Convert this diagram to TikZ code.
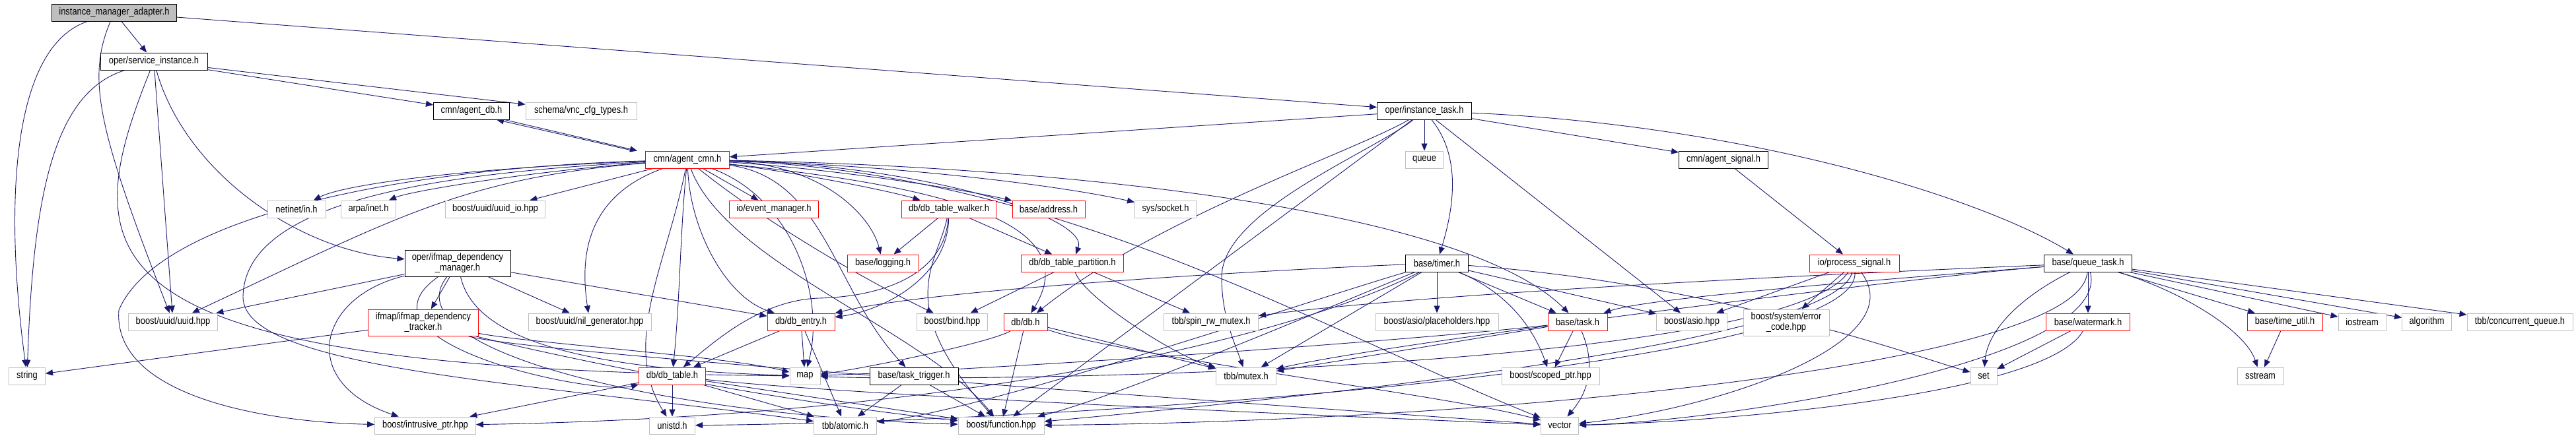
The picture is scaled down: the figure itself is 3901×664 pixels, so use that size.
\documentclass[tikz,border=0pt]{standalone}
\usepackage{fontspec}
\setmainfont{Liberation Sans}[FakeStretch=0.86]
\usetikzlibrary{arrows.meta}
\definecolor{edgec}{HTML}{191970}
\definecolor{grayb}{HTML}{BFBFBF}
\definecolor{redb}{HTML}{FF0000}
\definecolor{fillg}{HTML}{BFBFBF}
\pgfdeclarelayer{bg}
\pgfsetlayers{bg,main}
\begin{document}
\begin{tikzpicture}[x=1pt,y=-1pt,
  nd/.style={rectangle, draw, fill=white, minimum height=26pt, inner sep=0pt, line width=1pt, font=\fontsize{15}{16}\selectfont, align=center},
  bn/.style={nd, draw=black},
  rn/.style={nd, draw=redb},
  gn/.style={nd, draw=grayb},
  two/.style={minimum height=40pt},
  e/.style={draw=edgec, line width=0.9pt, -{Triangle[length=11pt,width=9pt]}}]
\useasboundingbox (0,0) rectangle (3901,664);
% row 0
\node[bn, fill=fillg, minimum width=189pt] (ima) at (173,19) {instance\_manager\_adapter.h};
% row 1
\node[bn, minimum width=162pt] (si) at (233,93) {oper/service\_instance.h};
% row 2
\node[bn, minimum width=115pt] (agentdb) at (714,168) {cmn/agent\_db.h};
\node[gn, minimum width=168pt] (vnc) at (880,168) {schema/vnc\_cfg\_types.h};
\node[bn, minimum width=143pt] (itask) at (2157,168) {oper/instance\_task.h};
% row 3
\node[rn, minimum width=127pt] (acmn) at (1041,242) {cmn/agent\_cmn.h};
\node[gn, minimum width=57pt] (queue) at (2157,242) {queue};
\node[bn, minimum width=135pt] (asig) at (2610,242) {cmn/agent\_signal.h};
% row 4
\node[gn, minimum width=88pt] (netinet) at (449,317) {netinet/in.h};
\node[gn, minimum width=83pt] (arpa) at (558,317) {arpa/inet.h};
\node[gn, minimum width=151pt] (uuidio) at (750,317) {boost/uuid/uuid\_io.hpp};
\node[rn, minimum width=135pt] (evmgr) at (1172,317) {io/event\_manager.h};
\node[rn, minimum width=143pt] (dbtw) at (1437,317) {db/db\_table\_walker.h};
\node[rn, minimum width=110pt] (addr) at (1588,317) {base/address.h};
\node[gn, minimum width=93pt] (socket) at (1765,317) {sys/socket.h};
% row 5
\node[bn, two, minimum width=160pt] (idm) at (693,399) {oper/ifmap\_dependency\\\_manager.h};
\node[rn, minimum width=108pt] (logging) at (1337,399) {base/logging.h};
\node[rn, minimum width=155pt] (dbtp) at (1624,399) {db/db\_table\_partition.h};
\node[bn, minimum width=95pt] (timer) at (2176,399) {base/timer.h};
\node[rn, minimum width=136pt] (psig) at (2808,399) {io/process\_signal.h};
\node[bn, minimum width=133pt] (qtask) at (3162,399) {base/queue\_task.h};
% row 6
\node[gn, minimum width=135pt] (uuid) at (262,488) {boost/uuid/uuid.hpp};
\node[rn, two, minimum width=167pt] (idt) at (641,489) {ifmap/ifmap\_dependency\\\_tracker.h};
\node[gn, minimum width=186pt] (nilgen) at (893,488) {boost/uuid/nil\_generator.hpp};
\node[rn, minimum width=102pt] (dbentry) at (1213,488) {db/db\_entry.h};
\node[gn, minimum width=107pt] (bind) at (1442,488) {boost/bind.hpp};
\node[rn, minimum width=66pt] (db) at (1553,488) {db/db.h};
\node[gn, minimum width=143pt] (spinrw) at (1834,488) {tbb/spin\_rw\_mutex.h};
\node[gn, minimum width=186pt] (placeh) at (2176,488) {boost/asio/placeholders.hpp};
\node[rn, minimum width=90pt] (task) at (2389,488) {base/task.h};
\node[gn, minimum width=107pt] (asio) at (2562,488) {boost/asio.hpp};
\node[gn, two, minimum width=130pt] (errc) at (2705,489) {boost/system/error\\\_code.hpp};
\node[rn, minimum width=127pt] (wmark) at (3162,488) {base/watermark.h};
\node[rn, minimum width=114pt] (tutil) at (3460,488) {base/time\_util.h};
\node[gn, minimum width=72pt] (iostream) at (3577,488) {iostream};
\node[gn, minimum width=75pt] (algo) at (3675,488) {algorithm};
\node[gn, minimum width=160pt] (cqueue) at (3816,488) {tbb/concurrent\_queue.h};
% row 7
\node[gn, minimum width=55pt] (string) at (41,570) {string};
\node[rn, minimum width=101pt] (dbtable) at (1018,570) {db/db\_table.h};
\node[gn, minimum width=46pt] (map) at (1219,570) {map};
\node[bn, minimum width=134pt] (ttrig) at (1384,570) {base/task\_trigger.h};
\node[gn, minimum width=91pt] (mutex) at (1887,570) {tbb/mutex.h};
\node[gn, minimum width=148pt] (scoped) at (2348,570) {boost/scoped\_ptr.hpp};
\node[gn, minimum width=40pt] (set) at (3004,570) {set};
\node[gn, minimum width=70pt] (sstream) at (3423,570) {sstream};
% row 8
\node[gn, minimum width=153pt] (intr) at (644,645) {boost/intrusive\_ptr.hpp};
\node[gn, minimum width=69pt] (unistd) at (1018,645) {unistd.h};
\node[gn, minimum width=95pt] (atomic) at (1280,645) {tbb/atomic.h};
\node[gn, minimum width=130pt] (func) at (1516,645) {boost/function.hpp};
\node[gn, minimum width=57pt] (vector) at (2362,645) {vector};

\begin{pgfonlayer}{bg}
% instance_manager_adapter.h
\draw[e] (ima) -- (si);
\draw[e] (ima) .. controls (20,70) and (5,300) .. (string);
\draw[e] (ima) .. controls (130,120) and (150,200) .. (uuid);
\draw[e] (ima) -- (itask);
% service_instance.h
\draw[e] (si) -- (agentdb);
\draw[e] (si) -- (vnc);
\draw[e] (si) .. controls (80,140) and (50,300) .. (string);
\draw[e] (si) -- (uuid);
\draw[e] (si) .. controls (280,260) and (450,380) .. (idm);
\draw[e] (si) .. controls (110,400) and (120,560) .. (map);
% agent_db / agent_cmn
\draw[e] ([xshift=-8pt]agentdb.south east) -- ([xshift=-12pt]acmn.north west);
\draw[e] ([xshift=-18pt]acmn.north west) -- ([xshift=-20pt]agentdb.south east);
% instance_task.h
\draw[e] (itask) -- (acmn);
\draw[e] (itask) -- (queue);
\draw[e] (itask) -- (asig);
\draw[e] (itask) .. controls (2650,190) and (3000,300) .. (qtask);
\draw[e] (itask) .. controls (2215,240) and (2200,320) .. (timer);
\draw[e] (itask) -- (asio);
\draw[e] (itask) -- (func);
\draw[e] (itask) .. controls (2050,230) and (1750,330) .. (db);
\draw[e] (itask) .. controls (2080,230) and (1850,320) .. (1850,420) .. controls (1850,480) and (1870,520) .. (mutex);
% agent_signal
\draw[e] (asig) -- (psig);
% agent_cmn.h
\draw[e] (acmn) .. controls (700,255) and (520,280) .. (netinet);
\draw[e] (acmn) .. controls (800,260) and (620,290) .. (arpa);
\draw[e] (acmn) -- (uuidio);
\draw[e] (acmn) -- (evmgr);
\draw[e] (acmn) .. controls (1200,260) and (1350,290) .. (dbtw);
\draw[e] (acmn) .. controls (1250,255) and (1450,285) .. (addr);
\draw[e] (acmn) .. controls (1350,250) and (1600,280) .. (socket);
\draw[e] (acmn) .. controls (700,270) and (600,330) .. (uuid);
\draw[e] (acmn) .. controls (600,255) and (240,330) .. (180,470) .. controls (170,600) and (400,640) .. (intr);
\draw[e] (acmn) .. controls (880,300) and (880,400) .. (nilgen);
\draw[e] (acmn) .. controls (1010,400) and (940,520) .. (unistd);
\draw[e] (acmn) .. controls (1030,350) and (1030,450) .. (dbtable);
\draw[e] (acmn) .. controls (1045,350) and (1100,450) .. (dbentry);
\draw[e] (acmn) .. controls (1250,250) and (1320,330) .. (logging);
\draw[e] (acmn) .. controls (1400,250) and (1650,330) .. (dbtp);
\draw[e] (acmn) .. controls (1250,270) and (1262,440) .. (ttrig);
\draw[e] (acmn) .. controls (1150,330) and (1300,420) .. (bind);
\draw[e] (acmn) .. controls (1500,250) and (2200,300) .. (task);
\draw[e] (acmn) .. controls (680,262) and (370,300) .. (368,450) .. controls (368,560) and (800,580) .. (atomic);
\draw[e] (acmn) .. controls (1100,400) and (1400,500) .. (func);
\draw[e] (acmn) .. controls (1600,260) and (2000,500) .. (vector);
\draw[e] (acmn) .. controls (1200,300) and (1250,450) .. (map);
\draw[e] (acmn) .. controls (1400,280) and (1650,330) .. (db);
% ifmap_dependency_manager.h
\draw[e] (idm) -- (idt);
\draw[e] (idm) -- (uuid);
\draw[e] (idm) -- (nilgen);
\draw[e] (idm) -- (dbentry);
\draw[e] (idm) .. controls (480,450) and (450,580) .. (intr);
\draw[e] (idm) .. controls (720,520) and (900,560) .. (map);
\draw[e] (idm) .. controls (520,520) and (900,600) .. (dbtable);
\draw[e] (idm) .. controls (590,530) and (1000,630) .. (func);
% ifmap_dependency_tracker.h
\draw[e] (idt) -- (string);
\draw[e] (idt) .. controls (800,520) and (1100,540) .. (map);
\draw[e] (idt) .. controls (760,525) and (1150,560) .. (vector);
\draw[e] (idt) .. controls (760,520) and (1100,600) .. (func);
% db_table_walker.h
\draw[e] (dbtw) -- (logging);
\draw[e] (dbtw) -- (dbtp);
\draw[e] (dbtw) .. controls (1420,400) and (1350,460) .. (func);
\draw[e] (dbtw) .. controls (1435,420) and (1340,470) .. (dbentry);
\draw[e] (dbtw) .. controls (1430,420) and (1330,450) .. (1240,452) .. controls (1150,455) and (1080,520) .. (dbtable);
% db_table_partition.h
\draw[e] (dbtp) -- (bind);
\draw[e] (dbtp) -- (spinrw);
\draw[e] (dbtp) .. controls (1640,450) and (1780,540) .. (mutex);
% db_entry.h
\draw[e] (dbentry) -- (dbtable);
\draw[e] (dbentry) -- (map);
\draw[e] (dbentry) -- (atomic);
% db.h
\draw[e] (db) -- (func);
\draw[e] (db) -- (mutex);
\draw[e] (db) .. controls (1500,520) and (1300,560) .. (map);
\draw[e] (db) .. controls (1700,540) and (2200,600) .. (vector);
% db_table.h
\draw[e] (dbtable) -- (intr);
\draw[e] (dbtable) -- (unistd);
\draw[e] (dbtable) -- (atomic);
\draw[e] (dbtable) -- (func);
\draw[e] (dbtable) .. controls (1300,600) and (2000,630) .. (vector);
% task_trigger.h
\draw[e] (ttrig) -- (atomic);
\draw[e] (ttrig) -- (func);
% timer.h
\draw[e] (timer) -- (placeh);
\draw[e] (timer) -- (task);
\draw[e] (timer) -- (asio);
\draw[e] (timer) .. controls (2300,450) and (2330,520) .. (scoped);
\draw[e] (timer) -- (mutex);
\draw[e] (timer) .. controls (1900,410) and (1400,440) .. (dbentry);
\draw[e] (timer) .. controls (2050,450) and (1700,600) .. (func);
\draw[e] (timer) .. controls (2000,450) and (1500,620) .. (atomic);
\draw[e] (timer) .. controls (1980,500) and (1500,630) .. (intr);
\draw[e] (timer) .. controls (2600,430) and (2900,540) .. (set);
% task.h
\draw[e] (task) -- (scoped);
\draw[e] (task) .. controls (2420,560) and (2400,600) .. (vector);
\draw[e] (task) .. controls (2100,520) and (1500,560) .. (map);
\draw[e] (task) -- (mutex);
% process_signal.h
\draw[e] (psig) -- (asio);
\draw[e] (psig) -- (errc);
\draw[e] (psig) .. controls (2780,520) and (2000,600) .. (func);
\draw[e] (psig) .. controls (2900,520) and (2600,620) .. (vector);
\draw[e] (psig) .. controls (2700,560) and (1500,580) .. (map);
\draw[e] (psig) .. controls (2820,560) and (1600,640) .. (unistd);
% queue_task.h
\draw[e] (qtask) .. controls (2900,420) and (2500,450) .. (task);
\draw[e] (qtask) .. controls (3060,450) and (3010,500) .. (set);
\draw[e] (qtask) -- (wmark);
\draw[e] (qtask) -- (tutil);
\draw[e] (qtask) .. controls (3300,440) and (3400,500) .. (sstream);
\draw[e] (qtask) -- (iostream);
\draw[e] (qtask) -- (algo);
\draw[e] (qtask) -- (cqueue);
\draw[e] (qtask) .. controls (2900,410) and (2200,440) .. (spinrw);
\draw[e] (qtask) .. controls (3200,550) and (2600,640) .. (vector);
\draw[e] (qtask) .. controls (3150,560) and (2200,640) .. (func);
\draw[e] (qtask) .. controls (2900,420) and (2100,520) .. (mutex);
% watermark.h
\draw[e] (wmark) -- (set);
\draw[e] (wmark) .. controls (3100,600) and (2600,640) .. (vector);
% time_util.h
\draw[e] (tutil) -- (sstream);
\end{pgfonlayer}
\end{tikzpicture}
\end{document}
